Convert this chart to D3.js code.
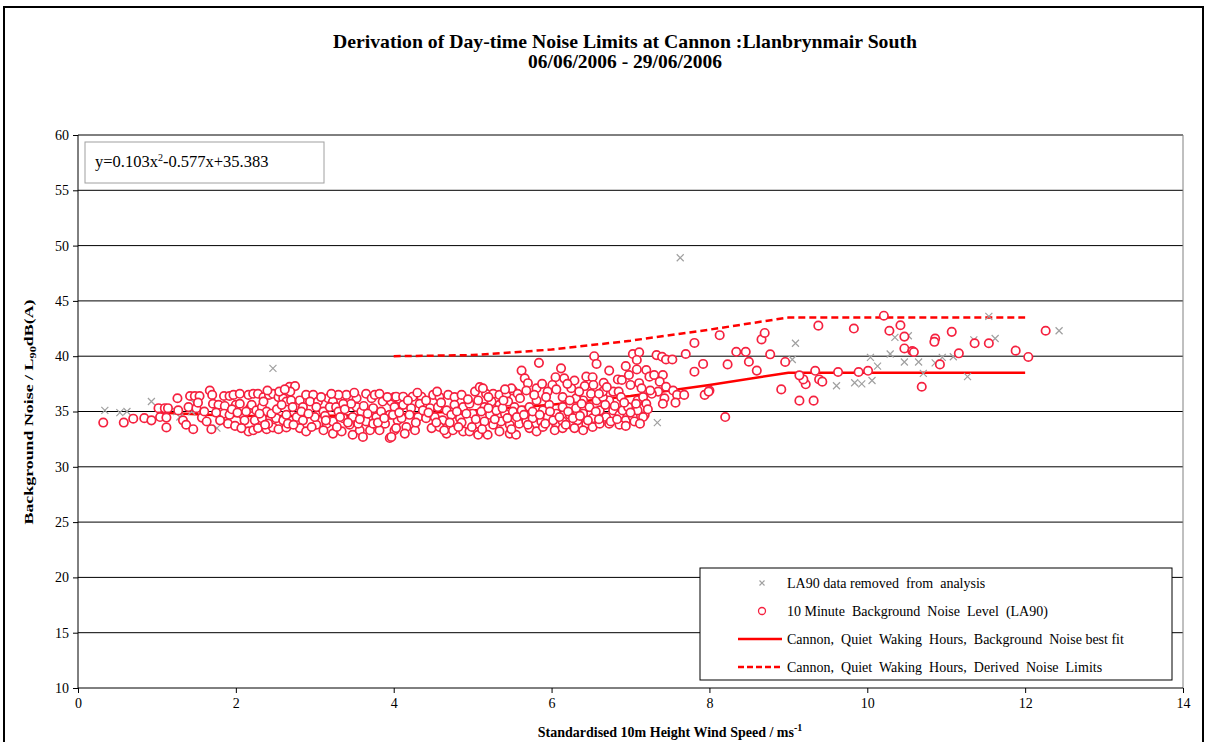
<!DOCTYPE html>
<html>
<head>
<meta charset="utf-8">
<script src="https://cdn.jsdelivr.net/npm/d3@7"></script>
<style>
  body { margin: 0; background: #fff; }
  svg text { font-family: "Liberation Serif", "Times New Roman", serif; }
</style>
</head>
<body>
<script>
// axis ticks
var xTicks = [0, 2, 4, 6, 8, 10, 12, 14]
var yTicks = [10, 15, 20, 25, 30, 35, 40, 45, 50, 55, 60]

// best fit (y=0.103x^2-0.577x+35.383, flat above 9 m/s) and derived limits
var fitSpeeds = [1, 2, 3, 4, 5, 6, 7, 8, 9, 10, 11, 12]
var fitValues = [34.9, 34.6, 34.6, 34.7, 35.1, 35.6, 36.4, 37.4, 38.5, 38.5, 38.5, 38.5]
var limitSpeeds = [4, 5, 6, 7, 8, 9, 10, 11, 12]
var limitValues = [40.0, 40.1, 40.6, 41.4, 42.4, 43.5, 43.5, 43.5, 43.5]

// 10 minute background noise level (LA90) [wind speed, dB]
var noisePoints = [
  [0.32,34.0],[0.58,34.0],[0.70,34.35],[0.84,34.4],[0.93,34.2],[1.02,35.3],[1.10,35.3],[1.14,35.3],[1.04,34.5],[1.12,34.45],
  [1.12,33.56],[1.26,36.2],[1.27,35.1],[1.33,34.2],[1.42,36.4],[1.48,36.4],[1.54,36.4],[1.40,35.4],[1.50,35.3],[1.52,35.8],
  [1.37,33.8],[1.46,33.4],[1.57,34.45],[1.67,36.9],[1.70,36.5],[1.71,35.7],[1.78,35.6],[1.69,33.4],[1.63,34.1],[1.85,36.4],
  [1.92,36.4],[1.86,35.5],[1.85,34.8],[1.92,34.7],[1.90,33.9],[1.99,33.7],[1.97,36.5],[2.05,36.6],[2.0,35.6],[2.05,35.7],
  [2.09,34.7],[2.11,34.2],[2.16,36.5],[2.22,36.6],[2.18,35.3],[2.20,35.6],[2.16,33.2],[2.22,33.3],[2.28,36.6],[2.35,36.3],
  [2.42,36.5],[2.26,35.1],[2.33,35.4],[2.39,35.0],[2.24,34.2],[2.33,34.4],[2.28,33.5],[2.39,33.4],[2.47,33.56],[2.47,36.6],
  [2.54,36.3],[2.60,36.2],[2.68,37.24],[2.75,37.3],[2.69,36.8],[2.64,35.9],[2.70,36.0],[2.51,34.4],[2.60,34.2],[2.64,34.7],
  [2.54,33.4],[2.64,33.56],[2.81,36.0],[2.85,35.4],[2.77,34.5],[2.85,34.2],[2.81,33.5],[2.89,33.2],
  [2.89,36.5],[2.98,36.5],[2.94,35.9],[3.04,35.9],[3.02,35.4],[3.11,35.0],[3.17,36.2],[3.23,35.9],[3.19,35.4],[3.15,33.9],
  [3.27,35.4],[3.30,35.0],[3.23,34.1],[3.40,36.5],[3.36,34.4],[3.34,33.2],[3.44,33.8],[3.53,35.4],[3.48,34.5],[3.48,32.9],
  [3.57,33.3],[3.65,36.6],[3.72,36.2],[3.76,36.5],[3.82,36.6],[3.74,35.3],[3.78,34.5],[3.84,35.0],[3.89,33.9],[3.95,34.7],
  [3.97,35.9],[4.01,36.3],[3.95,32.6],[3.82,33.3],[3.65,34.1],[3.70,33.3],[4.05,35.4],[4.05,34.2],[4.01,33.3],
  [3.02,33.8],[3.11,33.3],[3.23,33.0],[3.0,34.5],[2.66,33.9],[2.41,33.9],[2.07,33.5],[2.35,35.9],[2.45,34.8],[2.83,35.0],
  [3.53,36.2],[3.59,35.0],[3.46,35.7],[3.36,35.7],[3.30,36.5],[3.86,35.9],[3.74,33.9],[3.61,32.7],
  [4.03,36.34],[4.12,36.34],[4.24,36.34],[4.35,36.34],[4.01,35.4],[4.12,35.6],[4.22,35.3],[4.33,35.7],
  [3.99,34.7],[4.10,34.4],[4.20,34.7],[4.31,34.5],[4.03,33.5],[4.16,33.6],[4.27,33.3],[3.97,32.7],
  [4.41,36.0],[4.50,36.5],[4.58,36.3],[4.69,36.5],[4.77,36.3],[4.86,36.5],
  [4.46,35.3],[4.56,35.4],[4.67,35.1],[4.77,35.6],[4.88,35.4],
  [4.41,34.4],[4.52,34.5],[4.62,34.2],[4.73,34.7],[4.84,34.4],
  [4.48,33.5],[4.58,33.6],[4.67,33.0],[4.75,33.3],[4.88,33.2],
  [4.86,34.0],[4.96,33.2],[5.07,32.9],[5.19,32.9],
  [5.03,36.8],[5.09,37.2],[5.17,36.6],[5.26,36.6],[5.34,36.5],[5.43,36.6],[5.51,36.9],[5.57,36.6],
  [4.96,35.7],[5.07,36.0],[5.15,35.4],[5.24,35.9],[5.34,35.6],[5.45,35.9],[5.53,35.4],
  [5.0,34.8],[5.11,35.0],[5.22,34.7],[5.30,35.1],[5.41,34.8],[5.51,35.0],[5.62,35.1],
  [5.05,33.9],[5.15,34.1],[5.26,33.8],[5.36,34.1],[5.47,33.8],[5.59,33.9],[5.68,34.1],
  [5.34,33.2],[5.47,33.0],[5.55,32.9],[5.72,33.5],[5.81,33.2],
  [5.72,35.4],[5.81,36.0],[5.89,35.1],[5.97,35.6],[6.06,34.8],[6.14,35.4],[6.23,34.7],[6.31,35.3],[6.40,34.8],[6.48,35.4],
  [5.76,34.4],[5.87,34.1],[5.95,34.5],[6.06,33.8],[6.14,34.1],[6.25,33.8],[6.33,34.2],[6.44,33.9],[6.52,34.4],
  [5.89,33.6],[6.04,33.3],[6.14,33.5],[6.29,33.5],[6.40,33.3],[6.52,33.6],[6.61,33.9],
  [6.61,35.1],[6.69,34.5],[6.78,35.1],[6.86,34.7],[6.94,34.2],[6.73,36.0],[6.57,36.0],[6.65,36.3],[6.40,36.0],[6.31,36.2],
  [6.14,36.3],[6.23,36.0],[6.73,33.9],[6.86,33.8],[7.03,34.5],[7.18,34.7],[7.16,35.3],[7.09,36.0],
  [5.49,37.1],[5.13,37.1],[5.41,37.0],[5.62,38.7],
  [5.84,39.4],[6.12,38.9],[5.66,38.0],[5.70,37.56],[5.81,37.1],[6.05,38.1],[6.16,38.0],[6.01,37.4],[6.06,37.0],[5.95,36.8],
  [5.93,36.3],[6.25,37.1],[6.29,37.8],[6.44,38.15],[6.52,38.1],[6.42,37.3],[6.53,37.4],[6.54,40.0],[6.57,39.3],[6.66,37.6],
  [6.65,36.8],[6.73,38.7],[6.84,37.9],[6.89,37.85],[6.78,36.8],[6.94,39.1],[6.98,38.3],[6.85,36.8],[6.88,36.3],[7.03,40.2],
  [7.11,40.35],[7.08,39.66],[7.08,38.8],[7.11,37.56],[7.14,37.1],[7.20,38.75],[7.24,38.15],[7.33,40.1],[7.40,39.95],[7.45,39.7],
  [7.53,39.7],[7.30,38.3],[7.41,38.3],[7.37,37.7],[7.45,37.24],[7.35,36.8],[7.43,36.2],[7.41,35.7],[7.16,36.3],[7.20,35.7],
  [7.54,36.9],[7.59,36.5],[7.57,35.8],[7.68,36.5],[7.70,40.2],[7.81,38.6],[7.81,41.2],[7.92,39.3],[7.94,36.5],[8.0,36.9],
  [7.09,35.1],[7.16,34.5],[7.05,34.1],[6.94,33.7],[7.07,35.7],[6.90,35.1],[6.97,35.4],[7.99,36.8],
  [8.13,41.9],[9.38,42.76],[9.83,42.5],[10.21,43.66],[10.28,42.3],[10.42,42.8],[10.47,41.77],[10.47,40.7],[10.57,40.47],[10.59,40.38],
  [10.86,41.6],[10.85,41.3],[11.07,42.2],[11.36,41.17],[11.54,41.17],[11.16,40.26],[10.92,39.26],[11.88,40.5],[12.04,39.93],[12.26,42.3],
  [10.69,37.24],[10.01,38.68],[9.89,38.57],[9.63,38.57],[9.34,38.68],[9.39,37.9],[9.43,37.7],[9.22,37.46],[9.19,37.9],[9.14,38.27],
  [9.14,35.98],[9.32,35.98],[8.91,37.0],[8.96,39.48],[8.77,40.17],[8.6,38.7],[8.5,39.5],[8.46,40.4],[8.34,40.4],[8.23,39.26],
  [8.66,41.52],[8.7,42.1],[8.2,34.5],
  // filling of the dense band
  [1.60,35.0],[1.75,34.9],[1.80,34.2],[1.95,35.2],[2.02,34.9],
  [2.13,35.0],[2.30,34.8],[2.37,33.8],[2.52,35.2],[2.58,35.6],[2.72,35.4],[2.73,33.8],[2.92,34.8],[2.96,33.6],[2.55,36.8],[2.62,37.0],[2.40,36.9],
  [3.08,36.3],[3.13,34.6],[3.21,36.6],[3.28,33.6],[3.38,35.2],[3.42,34.0],[3.50,36.7],[3.55,33.9],[3.62,35.5],[3.67,34.8],[3.80,34.0],[3.88,34.4],[3.92,36.3],[3.57,34.3],[3.32,34.5],[3.14,34.2],
  [4.07,34.9],[4.14,33.0],[4.18,36.0],[4.28,34.0],[4.37,35.1],[4.44,34.9],[4.54,34.0],[4.60,35.8],[4.64,33.3],[4.71,34.0],[4.80,35.0],[4.82,33.6],[4.92,34.8],[4.94,36.1],[4.30,36.7],[4.55,36.8],[4.99,33.6],
  [5.04,34.3],[5.12,33.4],[5.20,35.3],[5.28,34.3],[5.38,35.3],[5.44,34.4],[5.49,33.4],[5.56,34.5],[5.60,36.2],[5.65,34.7],[5.70,33.8],[5.76,35.0],[5.85,34.7],[5.92,33.9],[5.98,35.0],[5.78,36.5],[5.68,36.9],[5.88,37.5],[5.39,36.0],[5.20,36.3],
  [6.02,34.2],[6.10,34.5],[6.18,33.8],[6.21,35.0],[6.27,34.4],[6.36,34.6],[6.38,35.7],[6.46,34.2],[6.50,36.6],[6.56,35.0],[6.60,34.3],[6.68,35.6],[6.75,34.1],[6.80,35.5],[6.83,34.3],[6.92,35.8],[7.00,34.9],[7.12,33.9],[7.22,35.2],[7.27,36.6],[6.35,36.8],[6.20,37.5],[6.70,37.2],[7.00,37.4],[7.25,36.9],[6.60,36.6]
]

// LA90 data removed from analysis [wind speed, dB]
var removedPoints = [
  [0.34,35.1],[0.53,34.9],[0.62,35.0],[0.93,35.9],[1.25,35.0],[1.29,34.5],[1.44,35.0],[1.48,35.7],[1.57,35.1],[1.76,33.5],
  [1.82,34.4],[2.47,38.9],[3.82,35.1],[7.34,34.0],[7.63,48.9],[9.09,41.17],[9.05,39.7],[9.61,37.33],[9.84,37.6],[9.93,37.5],
  [10.06,37.8],[10.04,39.9],[10.13,39.1],[10.29,40.2],[10.35,41.7],[10.52,41.85],[10.47,39.48],[10.65,39.48],[10.86,39.4],[10.95,39.9],
  [11.09,39.95],[11.27,38.15],[11.35,41.47],[11.62,41.6],[12.43,42.3],[10.71,38.45],[11.54,43.6]
]

var legendLabels = [
  "LA90 data removed  from  analysis",
  "10 Minute  Background  Noise  Level  (LA90)",
  "Cannon,  Quiet  Waking  Hours,  Background  Noise best fit",
  "Cannon,  Quiet  Waking  Hours,  Derived  Noise  Limits"
]

var width = 1210, height = 742
var plotLeft = 78, plotRight = 1183, plotTop = 135, plotBottom = 688
var red = "#ff0000", pointColor = "#f5213f", greyColor = "#a0a0a0"

var svg = d3.select("body").append("svg")
    .attr("width", width)
    .attr("height", height)

// outer chart frame
svg.append("rect")
    .attr("x", 4).attr("y", 7)
    .attr("width", 1199).attr("height", 760)
    .attr("fill", "none").attr("stroke", "#000").attr("stroke-width", 2)

var x = d3.scaleLinear().domain([0, 14]).range([plotLeft, plotRight])
var y = d3.scaleLinear().domain([10, 60]).range([plotBottom, plotTop])

//titles
svg.append("text")
    .attr("x", 625).attr("y", 48)
    .attr("text-anchor", "middle")
    .attr("font-size", 19.5).attr("font-weight", "bold")
    .attr("textLength", 584).attr("lengthAdjust", "spacingAndGlyphs")
    .text("Derivation of Day-time Noise Limits at Cannon :Llanbrynmair South")
svg.append("text")
    .attr("x", 625).attr("y", 68)
    .attr("text-anchor", "middle")
    .attr("font-size", 19.5).attr("font-weight", "bold")
    .text("06/06/2006 - 29/06/2006")

//gridlines
svg.append("g")
    .selectAll("line")
    .data(yTicks.slice(1))
    .enter()
    .append("line")
    .attr("x1", plotLeft).attr("x2", plotRight)
    .attr("y1", d => y(d)).attr("y2", d => y(d))
    .attr("stroke", "#000").attr("stroke-width", 1)

// right border of plot
svg.append("line")
    .attr("x1", plotRight).attr("x2", plotRight)
    .attr("y1", plotTop).attr("y2", plotBottom)
    .attr("stroke", "#808080").attr("stroke-width", 1)

//axes
var xAxis = d3.axisBottom(x).tickValues(xTicks).tickSize(5).tickPadding(5).tickFormat(d3.format("d"))
var yAxis = d3.axisLeft(y).tickValues(yTicks).tickSize(5).tickPadding(4).tickFormat(d3.format("d"))

var gx = svg.append("g")
    .attr("transform", "translate(0," + plotBottom + ")")
    .call(xAxis)
var gy = svg.append("g")
    .attr("transform", "translate(" + plotLeft + ",0)")
    .call(yAxis)
gx.select(".domain").attr("d", "M" + plotLeft + ",0H" + plotRight)
gy.select(".domain").attr("d", "M0," + plotTop + "V" + plotBottom)
svg.selectAll(".tick text")
    .attr("font-family", "Liberation Serif").attr("font-size", 14).attr("fill", "#000")

//axis titles
var xt = svg.append("text")
    .attr("x", 670).attr("y", 737)
    .attr("text-anchor", "middle")
    .attr("font-size", 14).attr("font-weight", "bold")
xt.append("tspan").text("Standardised 10m Height Wind Speed / ms")
xt.append("tspan").attr("dy", -6).attr("font-size", 10).text("-1")

var yt = svg.append("text")
    .attr("transform", "translate(33,412) rotate(-90)")
    .attr("text-anchor", "middle")
    .attr("font-size", 13).attr("font-weight", "bold")
    .attr("textLength", 225).attr("lengthAdjust", "spacingAndGlyphs")
yt.append("tspan").text("Background Noise / L")
yt.append("tspan").attr("dy", 3).attr("font-size", 9).text("90")
yt.append("tspan").attr("dy", -3).text("dB(A)")

// equation box
svg.append("rect")
    .attr("x", 85).attr("y", 142)
    .attr("width", 239).attr("height", 41)
    .attr("fill", "#fff").attr("stroke", "#a0a0a0")
var eq = svg.append("text")
    .attr("x", 95).attr("y", 167)
    .attr("font-size", 16.5)
eq.append("tspan").text("y=0.103x")
eq.append("tspan").attr("dy", -6).attr("font-size", 10).text("2")
eq.append("tspan").attr("dy", 6).text("-0.577x+35.383")

//lines
var line = d3.line().x(d => x(d[0])).y(d => y(d[1]))
svg.append("path")
    .datum(fitSpeeds.map((s, i) => [s, fitValues[i]]))
    .attr("d", line)
    .attr("fill", "none").attr("stroke", red).attr("stroke-width", 2.5)
svg.append("path")
    .datum(limitSpeeds.map((s, i) => [s, limitValues[i]]))
    .attr("d", line)
    .attr("fill", "none").attr("stroke", red).attr("stroke-width", 2.5)
    .attr("stroke-dasharray", "7,4")

//removed points (grey crosses)
function cross(g, cx, cy, r) {
    g.append("path")
        .attr("d", "M" + (cx - r) + "," + (cy - r) + "L" + (cx + r) + "," + (cy + r) +
                   "M" + (cx - r) + "," + (cy + r) + "L" + (cx + r) + "," + (cy - r))
        .attr("stroke", greyColor).attr("stroke-width", 1.2).attr("fill", "none")
}
var gRemoved = svg.append("g")
removedPoints.forEach(d => cross(gRemoved, x(d[0]), y(d[1]), 3.5))

//background noise points
svg.append("g")
    .selectAll("circle")
    .data(noisePoints)
    .enter()
    .append("circle")
    .attr("cx", d => x(d[0]))
    .attr("cy", d => y(d[1]))
    .attr("r", 4.2)
    .attr("fill", "#fff")
    .attr("stroke", pointColor)
    .attr("stroke-width", 1.7)

//legend
var lg = svg.append("g")
lg.append("rect")
    .attr("x", 700).attr("y", 568)
    .attr("width", 472).attr("height", 112)
    .attr("fill", "#fff").attr("stroke", "#000").attr("stroke-width", 1)
var rowY = [583, 611, 639, 667]
cross(lg, 762, rowY[0], 2.5)
lg.append("circle")
    .attr("cx", 762).attr("cy", rowY[1]).attr("r", 3.5)
    .attr("fill", "#fff").attr("stroke", pointColor).attr("stroke-width", 1.3)
lg.append("line")
    .attr("x1", 738).attr("x2", 782).attr("y1", rowY[2]).attr("y2", rowY[2])
    .attr("stroke", red).attr("stroke-width", 2.5)
lg.append("line")
    .attr("x1", 738).attr("x2", 782).attr("y1", rowY[3]).attr("y2", rowY[3])
    .attr("stroke", red).attr("stroke-width", 2.5).attr("stroke-dasharray", "6,3")
lg.selectAll("text.lbl")
    .data(legendLabels)
    .enter()
    .append("text")
    .attr("class", "lbl")
    .attr("x", 787)
    .attr("y", (d, i) => rowY[i] + 5)
    .attr("font-size", 14)
    .style("white-space", "pre")
    .text(d => d)
</script>
</body>
</html>
